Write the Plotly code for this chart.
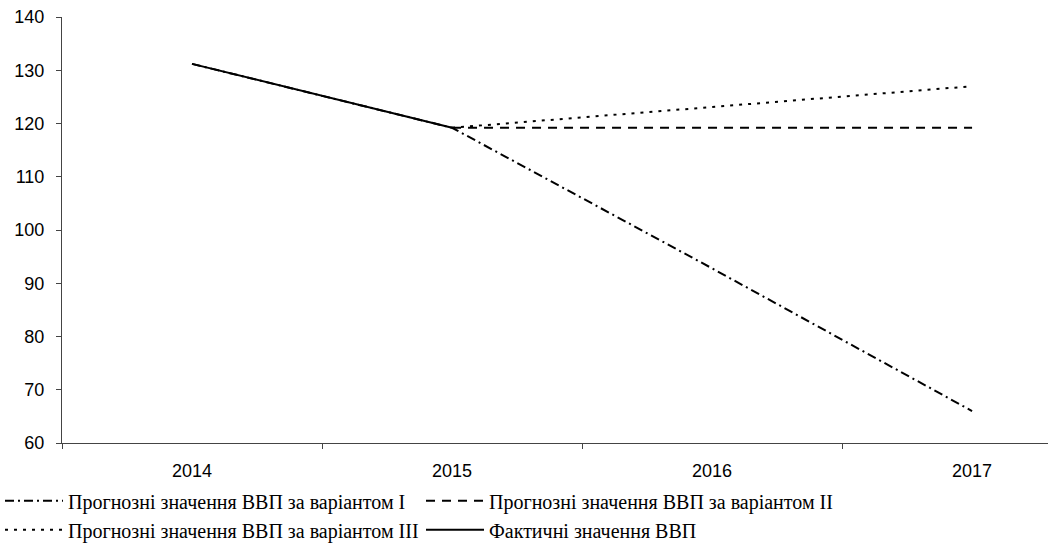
import plotly.graph_objects as go

years = ["2014", "2015", "2016", "2017"]
variant1 = [131.2, 119.2, 92.8, 66.0]
variant2 = [None, 119.2, 119.2, 119.2]
variant3 = [None, 119.2, 123.1, 127.0]
actual = [131.2, 119.2, None, None]

names = [
    "Прогнозні значення ВВП за варіантом I",
    "Прогнозні значення ВВП за варіантом II",
    "Прогнозні значення ВВП за варіантом III",
    "Фактичні значення ВВП",
]
dashes = ["9px,4px,2px,4px", "9px,7px", "3px,6px", "solid"]
series = [variant1, variant2, variant3, actual]

fig = go.Figure()
for name, vals, d in zip(names, series, dashes):
    fig.add_trace(go.Scatter(
        x=years, y=vals, name=name, mode="lines",
        line=dict(color="black", width=2, dash=d),
        connectgaps=False,
    ))

fig.update_layout(
    width=1048, height=547,
    paper_bgcolor="white", plot_bgcolor="white",
    margin=dict(l=62, r=0, t=17, b=104, autoexpand=False),
    showlegend=True,
    legend=dict(
        orientation="h", xref="container", yref="container",
        x=0.0, xanchor="left", y=0.12, yanchor="top",
        font=dict(family="Liberation Serif, Times New Roman, serif", size=20, color="black"),
        entrywidth=348, entrywidthmode="pixels",
        itemwidth=58, tracegroupgap=0, bgcolor="rgba(0,0,0,0)",
    ),
    font=dict(family="Liberation Sans, Arial, sans-serif", size=18, color="black"),
)
fig.update_xaxes(
    type="category", range=[-0.5, 3.292],
    showline=True, linecolor="#444", linewidth=1,
    ticks="outside", ticklen=5, tickcolor="#444", tickson="boundaries",
    showgrid=False, zeroline=False, ticklabelstandoff=11,
)
fig.update_yaxes(
    range=[60, 140], dtick=10, tick0=60,
    showline=True, linecolor="#444", linewidth=1,
    ticks="outside", ticklen=5, tickcolor="#444",
    showgrid=False, zeroline=False, ticklabelstandoff=8,
)

fig.write_html(
    "out.html",
    config={"displayModeBar": False},
    post_script="document.body.style.margin='0';",
)
